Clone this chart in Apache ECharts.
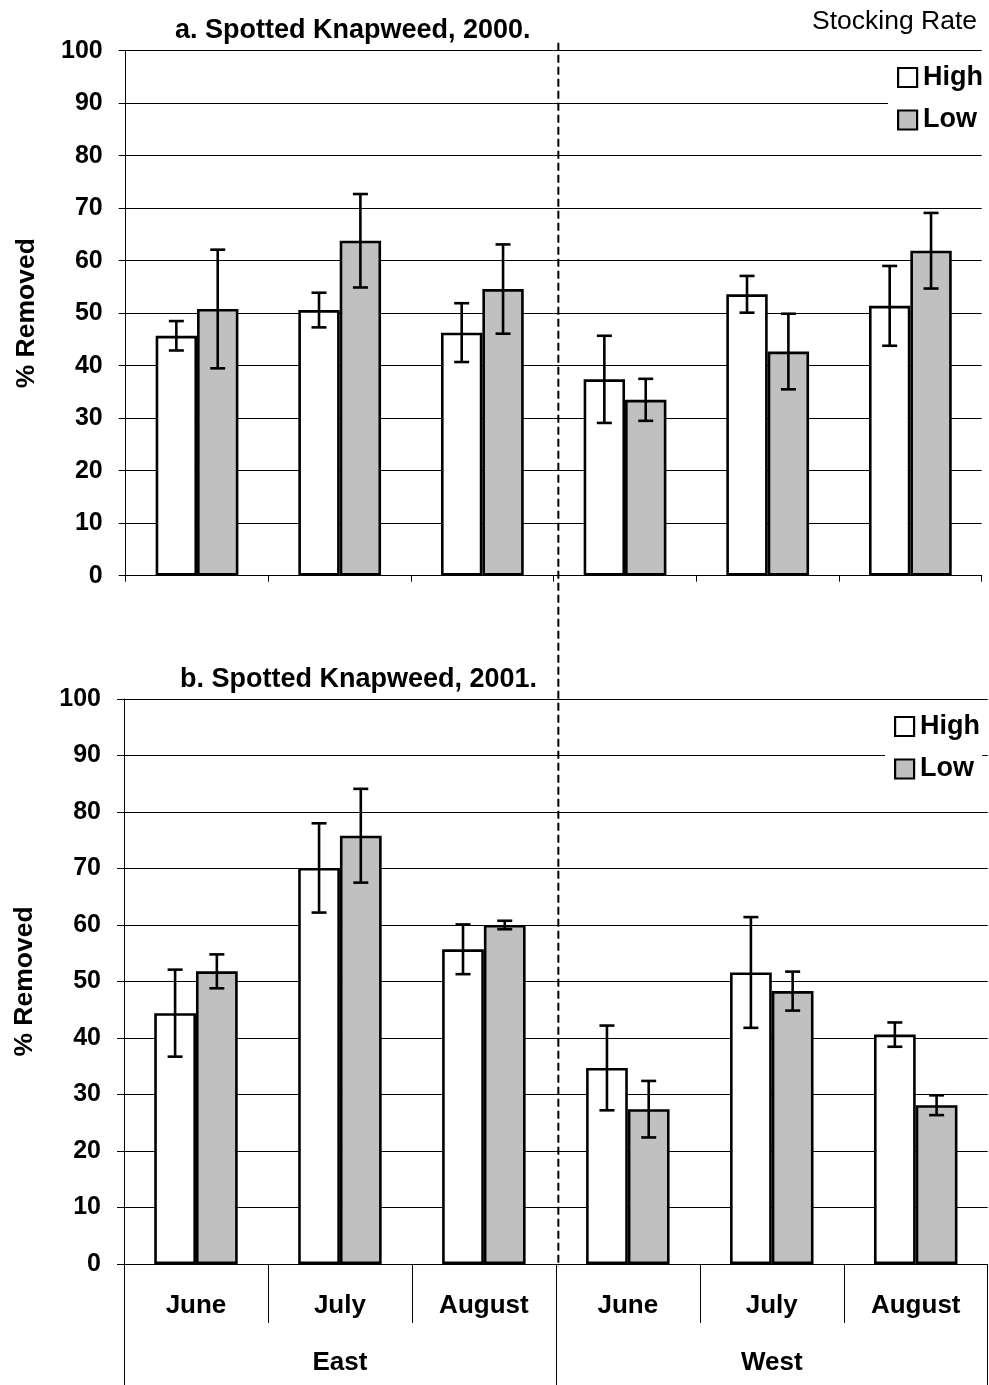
<!DOCTYPE html>
<html>
<head>
<meta charset="utf-8">
<script src="https://cdn.jsdelivr.net/npm/echarts@6/dist/echarts.min.js"></script>
<style>
  html, body { margin: 0; padding: 0; background: #fff; }
  #chart { width: 989px; height: 1385px; }
</style>
</head>
<body>
<div id="chart"></div>
<script>
// Categories
const months = ['June', 'July', 'August', 'June', 'July', 'August'];
const regions = ['East', 'West'];
const seriesNames = ['High', 'Low'];

// a. 2000 — mean % removed and error half-widths
const highA = [45.7, 50.6, 46.3, 37.4, 53.6, 51.4];
const lowA = [50.8, 63.8, 54.6, 33.5, 42.7, 61.9];
const highErrA = [2.8, 3.3, 5.6, 8.3, 3.5, 7.6];
const lowErrA = [11.3, 8.9, 8.5, 4.0, 7.2, 7.2];

// b. 2001
const highB = [44.4, 70.1, 55.7, 34.7, 51.6, 40.6];
const lowB = [51.8, 75.8, 60.0, 27.4, 48.3, 28.1];
const highErrB = [7.7, 7.9, 4.4, 7.5, 9.8, 2.15];
const lowErrB = [3.0, 8.3, 0.75, 5.0, 3.45, 1.75];

const FONT = "'Liberation Sans', Arial, sans-serif";
const GAP = 0.42; // barCategoryGap as a fraction

const chart = echarts.init(document.getElementById('chart'), null, { renderer: 'canvas' });

function errorSeries(xIdx, yIdx, means, errs, side) {
  return {
    type: 'custom',
    xAxisIndex: xIdx,
    yAxisIndex: yIdx,
    z: 5,
    silent: true,
    data: means.map((m, i) => [i, m, errs[i]]),
    renderItem: function (params, api) {
      const i = api.value(0), m = api.value(1), e = api.value(2);
      const band = api.size([1, 0])[0];
      const bw = band * (1 - GAP) / 2;
      const cx = api.coord([i, m])[0] + side * bw / 2;
      const yTop = api.coord([i, m + e])[1];
      const yBot = api.coord([i, m - e])[1];
      const cap = 7.5;
      const style = { stroke: '#000', lineWidth: 2.6, fill: null };
      return {
        type: 'group',
        children: [
          { type: 'line', shape: { x1: cx, y1: yTop, x2: cx, y2: yBot }, style: style },
          { type: 'line', shape: { x1: cx - cap, y1: yTop, x2: cx + cap, y2: yTop }, style: style },
          { type: 'line', shape: { x1: cx - cap, y1: yBot, x2: cx + cap, y2: yBot }, style: style }
        ]
      };
    }
  };
}

function barSeries(name, xIdx, yIdx, values, color) {
  return {
    name: name,
    type: 'bar',
    xAxisIndex: xIdx,
    yAxisIndex: yIdx,
    data: values,
    barGap: '0%',
    barCategoryGap: (GAP * 100) + '%',
    itemStyle: { color: color, borderColor: '#000', borderWidth: 2.6 },
    emphasis: { disabled: true }
  };
}

function yAxisFor(gridIndex) {
  return {
    type: 'value',
    gridIndex: gridIndex,
    min: 0, max: 100, interval: 10,
    name: '% Removed',
    nameLocation: 'middle',
    nameRotate: 90,
    nameGap: 86,
    nameTextStyle: { fontFamily: FONT, fontWeight: 'bold', fontSize: 26.5, color: '#000' },
    axisLine: { show: true, lineStyle: { color: '#000', width: 1 } },
    axisTick: { show: true, length: 7, lineStyle: { color: '#000', width: 1 } },
    axisLabel: { fontFamily: FONT, fontWeight: 'bold', fontSize: 25, color: '#000', margin: 23 },
    splitLine: { show: true, lineStyle: { color: '#000', width: 1 } }
  };
}

function legendFor(left, top) {
  return {
    orient: 'vertical',
    left: left,
    top: top,
    data: seriesNames,
    icon: 'rect',
    itemWidth: 19,
    itemHeight: 19,
    itemGap: 15.5,
    backgroundColor: '#fff',
    padding: [5, 2, 5, 9],
    selectedMode: false,
    itemStyle: { borderColor: '#000', borderWidth: 2.2 },
    textStyle: { fontFamily: FONT, fontWeight: 'bold', fontSize: 27, color: '#000', lineHeight: 24, padding: [0, 0, 0, 1] }
  };
}

const titleStyle = { fontFamily: FONT, fontWeight: 'bold', fontSize: 27, color: '#000' };

const option = {
  backgroundColor: '#fff',
  animation: false,
  title: [
    { text: 'a. Spotted Knapweed, 2000.', left: 175, top: 17, padding: 0, textStyle: titleStyle },
    { text: 'Stocking Rate', right: 12, top: 8, padding: 0,
      textStyle: { fontFamily: FONT, fontWeight: 'normal', fontSize: 26.5, color: '#000' } },
    { text: 'b. Spotted Knapweed, 2001.', left: 180, top: 666, padding: 0, textStyle: titleStyle }
  ],
  legend: [legendFor(888, 59), legendFor(885, 708)],
  grid: [
    { left: 125.7, right: 7.3, top: 50.7, height: 525, containLabel: false },
    { left: 124, right: 1.3, top: 699, height: 565, containLabel: false }
  ],
  xAxis: [
    {
      type: 'category', gridIndex: 0, data: months,
      axisLine: { show: true, onZero: false, lineStyle: { color: '#000', width: 1 } },
      axisTick: { show: true, length: 6, interval: 0, lineStyle: { color: '#000', width: 1 } },
      axisLabel: { show: false },
      splitLine: { show: false }
    },
    {
      type: 'category', gridIndex: 1, data: months, position: 'bottom',
      axisLine: { show: true, onZero: false, lineStyle: { color: '#000', width: 1 } },
      axisTick: { show: true, length: 59, interval: 0, lineStyle: { color: '#000', width: 1 } },
      axisLabel: { interval: 0, fontFamily: FONT, fontWeight: 'bold', fontSize: 26, color: '#000', margin: 29 },
      splitLine: { show: false }
    },
    {
      type: 'category', gridIndex: 1, data: regions, position: 'bottom',
      axisLine: { show: false, onZero: false },
      axisTick: { show: true, length: 121, interval: 0, lineStyle: { color: '#000', width: 1 } },
      axisLabel: { interval: 0, fontFamily: FONT, fontWeight: 'bold', fontSize: 26, color: '#000', margin: 86 },
      splitLine: { show: false }
    }
  ],
  yAxis: [yAxisFor(0), yAxisFor(1)],
  series: [
    barSeries('High', 0, 0, highA, '#ffffff'),
    barSeries('Low', 0, 0, lowA, '#c0c0c0'),
    errorSeries(0, 0, highA, highErrA, -1),
    errorSeries(0, 0, lowA, lowErrA, 1),
    barSeries('High', 1, 1, highB, '#ffffff'),
    barSeries('Low', 1, 1, lowB, '#c0c0c0'),
    errorSeries(1, 1, highB, highErrB, -1),
    errorSeries(1, 1, lowB, lowErrB, 1)
  ]
};

chart.setOption(option);

// Dashed divider between the East and West halves, spanning both panels
const c2 = chart.convertToPixel({ xAxisIndex: 1 }, 2);
const c3 = chart.convertToPixel({ xAxisIndex: 1 }, 3);
const divX = (c2 + c3) / 2 + 2.5;
const divTop = chart.convertToPixel({ yAxisIndex: 0 }, 100) - 8;
const divBot = chart.convertToPixel({ yAxisIndex: 1 }, 0) + 3;
chart.setOption({
  graphic: [{
    type: 'line',
    z: 10,
    silent: true,
    shape: { x1: divX, y1: divTop, x2: divX, y2: divBot },
    style: { stroke: '#000', lineWidth: 2, lineDash: [8, 4] }
  }]
});
</script>
</body>
</html>
